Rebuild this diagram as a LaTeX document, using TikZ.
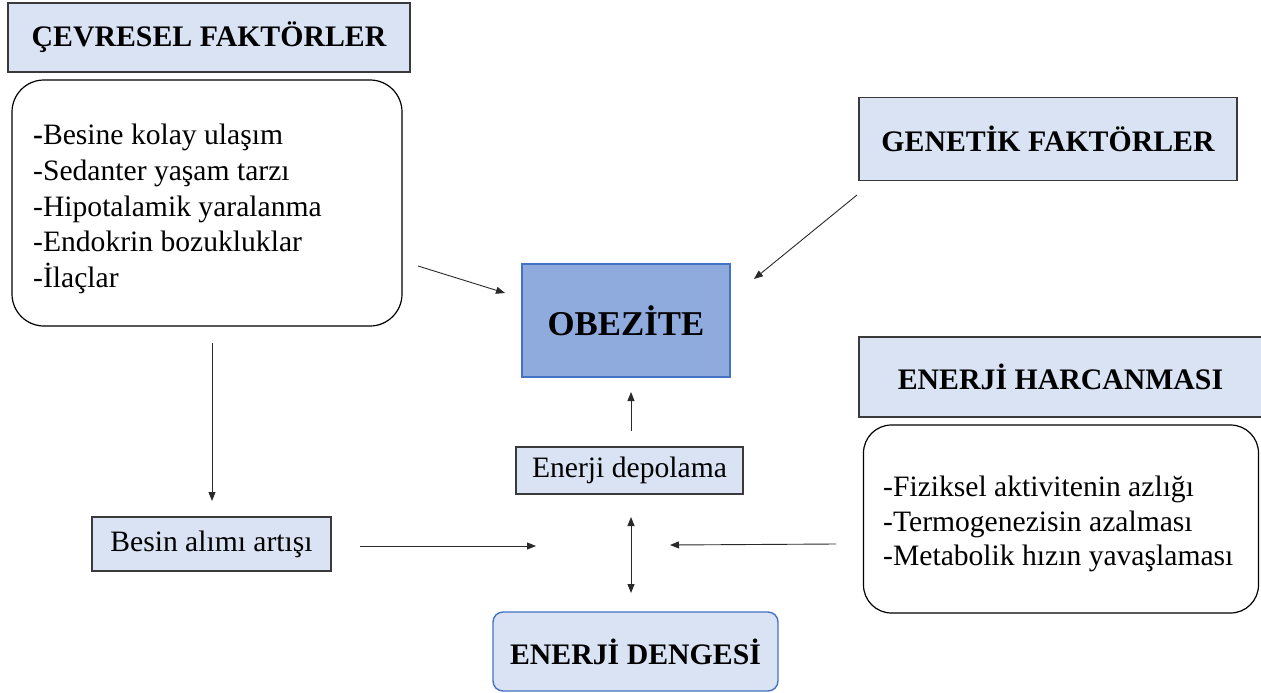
\documentclass[tikz,border=0pt]{standalone}
\usepackage{fontspec}
\setmainfont{Liberation Serif}
\usetikzlibrary{arrows.meta}
\definecolor{lightfill}{HTML}{DAE3F3}
\definecolor{obfill}{HTML}{8FAADC}
\definecolor{obline}{HTML}{4472C4}
\definecolor{hdrline}{HTML}{3A3A3A}
\definecolor{arrline}{HTML}{2A2A2A}
\begin{document}
\begin{tikzpicture}[x=1pt,y=-1pt,
  hdr/.style={draw=hdrline, line width=1.4pt, fill=lightfill, inner sep=0pt,
    font=\fontsize{29.8}{32}\selectfont\bfseries},
  rbox/.style={draw=black, line width=1.2pt, rounded corners=32pt, fill=white, inner sep=0pt},
  listtxt/.style={align=left, inner sep=0pt, font=\fontsize{29.6}{35.7}\selectfont},
  smallbox/.style={draw=hdrline, line width=1.2pt, fill=lightfill, inner sep=0pt,
    font=\fontsize{29.6}{34}\selectfont},
  arr/.style={draw=arrline, line width=0.9pt, -{Triangle[length=9pt,width=7pt]}},
  darr/.style={draw=arrline, line width=0.9pt, {Triangle[length=9pt,width=7pt]}-{Triangle[length=9pt,width=7pt]}}
]
\useasboundingbox (0,0) rectangle (1261,693);

% headers
\node[hdr, minimum width=402pt, minimum height=69pt] (cev) at (209,37.5) {\raisebox{-2pt}{ÇEVRESEL FAKTÖRLER}};
\node[hdr, minimum width=378pt, minimum height=83pt] (gen) at (1048,139) {GENETİK FAKTÖRLER};
\node[hdr, minimum width=403pt, minimum height=80pt] (harc) at (1060.5,377) {ENERJİ HARCANMASI};

% rounded list boxes
\node[rbox, minimum width=390pt, minimum height=246pt] (cevbox) at (207,203) {};
\node[listtxt, anchor=west] (cevlist) at (33,209) {\textbf{-}Besine kolay ulaşım\\-Sedanter yaşam tarzı\\-Hipotalamik yaralanma\\-Endokrin bozukluklar\\-İlaçlar};

\node[rbox, rounded corners=28pt, minimum width=395pt, minimum height=188pt] (harcbox) at (1061,519) {};
\node[listtxt, anchor=west, font=\fontsize{29.6}{34.5}\selectfont] (harclist) at (883,524) {-Fiziksel aktivitenin azlığı\\-Termogenezisin azalması\\-Metabolik hızın yavaşlaması};

% central
\node[draw=obline, line width=1.4pt, fill=obfill, inner sep=0pt, minimum width=208pt, minimum height=113pt,
  font=\fontsize{34.8}{38}\selectfont\bfseries] (obez) at (626,320.5) {OBEZİTE};
\node[smallbox, minimum width=227pt, minimum height=47pt] (depo) at (629.5,470.5) {\raisebox{-2pt}{Enerji depolama}};
\node[smallbox, minimum width=239pt, minimum height=54pt] (besin) at (211.5,544) {\raisebox{-2pt}{Besin alımı artışı}};
\node[draw=obline, line width=1.4pt, fill=lightfill, rounded corners=10pt, inner sep=0pt,
  minimum width=285pt, minimum height=79pt, font=\fontsize{29.8}{32}\selectfont\bfseries] (denge) at (635.5,651.5) {ENERJİ DENGESİ};

% connector end points
\coordinate (a1s) at (418,266);
\coordinate (a1e) at (505,293);
\coordinate (a2s) at (857,195);
\coordinate (a2e) at (754,279);
\coordinate (a3s) at (631,431);
\coordinate (a3e) at (631,392);
\coordinate (a4s) at (631,517);
\coordinate (a4e) at (631,593);
\coordinate (a5s) at (360,546);
\coordinate (a5e) at (536,546);
\coordinate (a6s) at (836,544);
\coordinate (a6e) at (670,545);
\coordinate (a7s) at (212,343);
\coordinate (a7e) at (212,501);

\draw[arr] (a1s) -- (a1e);
\draw[arr] (a2s) -- (a2e);
\draw[arr] (a3s) -- (a3e);
\draw[darr] (a4s) -- (a4e);
\draw[arr] (a5s) -- (a5e);
\draw[arr] (a6s) -- (a6e);
\draw[arr] (a7s) -- (a7e);
\end{tikzpicture}
\end{document}
